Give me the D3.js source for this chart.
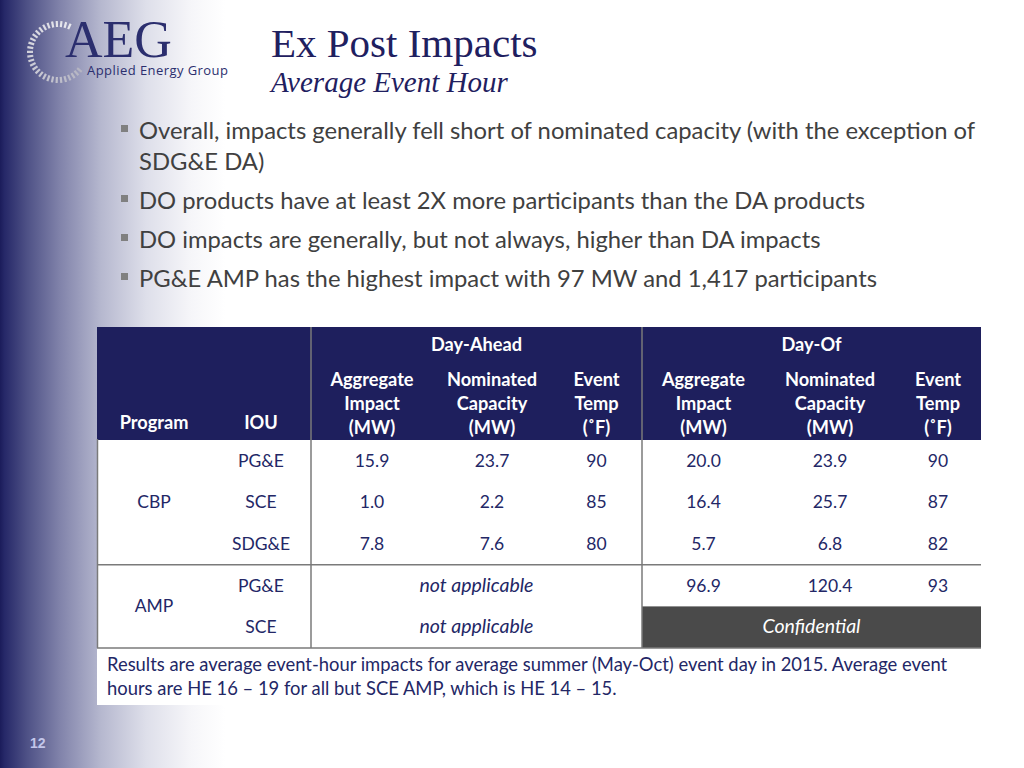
<!DOCTYPE html>
<html><head><meta charset="utf-8">
<script src="https://cdn.jsdelivr.net/npm/d3@7"></script>
<style>html,body{margin:0;padding:0;background:#fff;}svg{display:block;}</style>
</head><body>
<script>
// ---- data ----
const titleText = "Ex Post Impacts";
const subtitleText = "Average Event Hour";
const bullets = [
  ["Overall, impacts generally fell short of nominated capacity (with the exception of", "SDG&E DA)"],
  ["DO products have at least 2X more participants than the DA products"],
  ["DO impacts are generally, but not always, higher than DA impacts"],
  ["PG&E AMP has the highest impact with 97 MW and 1,417 participants"]
];
const groupLabels = ["Day-Ahead", "Day-Of"];
const metricLabels = [["Aggregate","Impact","(MW)"],["Nominated","Capacity","(MW)"],["Event","Temp","(˚F)"]];
const programs = ["CBP","CBP","CBP","AMP","AMP"];
const ious = ["PG&E","SCE","SDG&E","PG&E","SCE"];
const daImpact   = [15.9, 1.0, 7.8, null, null];
const daCapacity = [23.7, 2.2, 7.6, null, null];
const daTemp     = [90, 85, 80, null, null];
const doImpact   = [20.0, 16.4, 5.7, 96.9, null];
const doCapacity = [23.9, 25.7, 6.8, 120.4, null];
const doTemp     = [90, 87, 82, 93, null];
const naLabel = "not applicable";
const confLabel = "Confidential";
const footnote = ["Results are average event-hour impacts for average summer (May-Oct) event day in 2015. Average event",
                  "hours are HE 16 – 19 for all but SCE AMP, which is HE 14 – 15."];
const pageNumber = "12";

// ---- drawing ----
const W = 1024, H = 768;
const navy = "#1f2060", textNavy = "#232766", gray = "#404040";
const sans = "Lato, 'Open Sans', sans-serif";
const serif = "'Liberation Serif', 'DejaVu Serif', serif";

const svg = d3.select("body").append("svg").attr("width", W).attr("height", H);
const defs = svg.append("defs");
const grad = defs.append("linearGradient").attr("id","bg").attr("x1",0).attr("x2",1).attr("y1",0).attr("y2",0);
[[0,"#1b1c5a"],[0.02,"#262868"],[0.12,"#4e5186"],[0.27,"#8284ab"],[0.45,"#b6b8cf"],[0.65,"#dedfea"],[0.85,"#f6f6f9"],[1,"#ffffff"]]
  .forEach(([o,c]) => grad.append("stop").attr("offset",o).attr("stop-color",c));
svg.append("rect").attr("width",W).attr("height",H).attr("fill","#fff");
svg.append("rect").attr("width",225).attr("height",H).attr("fill","url(#bg)");

// logo tick ring
const ticks = d3.range(30);
const ang = d3.scaleLinear().domain([0, ticks.length-1]).range([40*Math.PI/180, 294*Math.PI/180]);
const tickCol = d3.scaleLinear().domain([0, ticks.length-1]).range(["#b5b5c2","#e8e8ee"]);
const cx = 58, cy = 52, r0 = 25, r1 = 31;
svg.append("g").selectAll("line").data(ticks).join("line")
  .attr("x1", d => cx + r0*Math.cos(ang(d))).attr("y1", d => cy + r0*Math.sin(ang(d)))
  .attr("x2", d => cx + r1*Math.cos(ang(d))).attr("y2", d => cy + r1*Math.sin(ang(d)))
  .attr("stroke", d => tickCol(d)).attr("stroke-width", 2.2);
const logo = svg.append("text").attr("fill","#2b2e6e");
logo.append("tspan").attr("x",65).attr("y",57).attr("font-family",serif).attr("font-size",52).text("AEG");
logo.append("tspan").attr("x",87).attr("y",75).attr("font-family","'Open Sans', sans-serif").attr("font-size",13)
  .attr("textLength",141).text("Applied Energy Group");

// title
svg.append("text").attr("x",271).attr("y",57).attr("font-family",serif).attr("font-size",41)
  .attr("fill",navy).text(titleText);
svg.append("text").attr("x",271).attr("y",92).attr("font-family",serif).attr("font-style","italic")
  .attr("font-size",29).attr("fill",navy).text(subtitleText);

// bullets
const bulletY = [139, 209, 248, 287];
bullets.forEach((lines, i) => {
  svg.append("rect").attr("x",121).attr("y",bulletY[i]-14).attr("width",7).attr("height",7).attr("fill","#808080");
  lines.forEach((ln, j) => {
    svg.append("text").attr("x",139).attr("y",bulletY[i] + j*31).attr("font-family",sans)
      .attr("font-size",23.8).attr("fill",gray).text(ln);
  });
});

// table geometry
const colEdges = [97,211,311,433,551,642,765,895,981];
const colCenter = i => (colEdges[i] + colEdges[i+1]) / 2;
const tTop = 327, hBot = 439, bBot = 648, fBot = 705;
const y = d3.scaleBand().domain(d3.range(ious.length)).range([hBot+1, bBot]);

// header
svg.append("rect").attr("x",97).attr("y",tTop).attr("width",884).attr("height",hBot-tTop+1).attr("fill","#1e1f5d");
// body
svg.append("rect").attr("x",97).attr("y",hBot+1).attr("width",884).attr("height",fBot-hBot-1).attr("fill","#fff");

// Confidential block (below text)
const confRows = d3.range(ious.length).filter(i => doImpact[i] === null);
svg.selectAll("rect.conf").data(confRows).join("rect").attr("class","conf")
  .attr("x",colEdges[5]).attr("y",d => y(d)).attr("width",colEdges[8]-colEdges[5]).attr("height",y.bandwidth())
  .attr("fill","#4a4a4a");

const hdr = svg.append("g").attr("font-family",sans).attr("font-weight","bold").attr("font-size",18.2)
  .attr("fill","#fff").attr("text-anchor","middle");
groupLabels.forEach((g, gi) => {
  const a = colEdges[2 + gi*3], b = colEdges[5 + gi*3];
  hdr.append("text").attr("x",(a+b)/2).attr("y",351).text(g);
  metricLabels.forEach((m, mi) => {
    m.forEach((ln, li) => hdr.append("text").attr("x",colCenter(2+gi*3+mi)).attr("y",386+li*24).text(ln));
  });
});
hdr.append("text").attr("x",colCenter(0)).attr("y",429).text("Program");
hdr.append("text").attr("x",colCenter(1)).attr("y",429).text("IOU");

// body cells
const body = svg.append("g").attr("font-family",sans).attr("font-size",17.5).attr("fill",textNavy).attr("text-anchor","middle");
const f1 = d3.format(".1f"), f0 = d3.format("d");
const valueCols = [[daImpact,f1],[daCapacity,f1],[daTemp,f0],[doImpact,f1],[doCapacity,f1],[doTemp,f0]];
const rowMid = i => y(i) + y.bandwidth()/2 + 6;

body.selectAll("text.iou").data(ious).join("text").attr("class","iou")
  .attr("x",colCenter(1)).attr("y",(d,i)=>rowMid(i)).text(d=>d);
const progGroups = d3.groups(d3.range(programs.length), i => programs[i]);
body.selectAll("text.prog").data(progGroups).join("text").attr("class","prog")
  .attr("x",colCenter(0)).attr("y",d => (y(d[1][0]) + y(d[1][d[1].length-1]) + y.bandwidth())/2 + 6).text(d=>d[0]);
valueCols.forEach(([arr, fmt], ci) => {
  body.selectAll(null).data(arr.map((v,i)=>[v,i]).filter(d=>d[0]!==null)).join("text")
    .attr("x",colCenter(2+ci)).attr("y",d=>rowMid(d[1])).text(d=>fmt(d[0]));
});
d3.range(ious.length).filter(i => daImpact[i] === null).forEach(i => {
  body.append("text").attr("x",(colEdges[2]+colEdges[5])/2).attr("y",rowMid(i)).attr("font-style","italic")
    .attr("font-size",19.5).text(naLabel);
});
confRows.forEach(i => {
  body.append("text").attr("x",(colEdges[5]+colEdges[8])/2).attr("y",rowMid(i)).attr("font-style","italic")
    .attr("font-size",19.5).attr("fill","#fff").text(confLabel);
});

// grid lines
const lines = svg.append("g").attr("stroke","#7a7a7a").attr("stroke-width",1.5);
const groupBreaks = progGroups.slice(1).map(g => y(g[1][0]));
groupBreaks.forEach(yy => lines.append("line").attr("x1",97).attr("x2",981).attr("y1",yy).attr("y2",yy));
lines.append("line").attr("x1",97).attr("x2",981).attr("y1",bBot).attr("y2",bBot);
[2,5].forEach(c => lines.append("line").attr("x1",colEdges[c]).attr("x2",colEdges[c]).attr("y1",tTop).attr("y2",bBot));
lines.append("line").attr("x1",97.5).attr("x2",97.5).attr("y1",hBot).attr("y2",bBot);

// footnote
footnote.forEach((ln, i) => svg.append("text").attr("x",107).attr("y",671+i*24).attr("font-family",sans)
  .attr("font-size",18.4).attr("fill",textNavy).text(ln));

// page number
svg.append("text").attr("x",30).attr("y",748).attr("font-family","'Liberation Sans', Arial, sans-serif")
  .attr("font-weight","bold").attr("font-size",14).attr("fill","#c3c6ea").text(pageNumber);
</script>
</body></html>
